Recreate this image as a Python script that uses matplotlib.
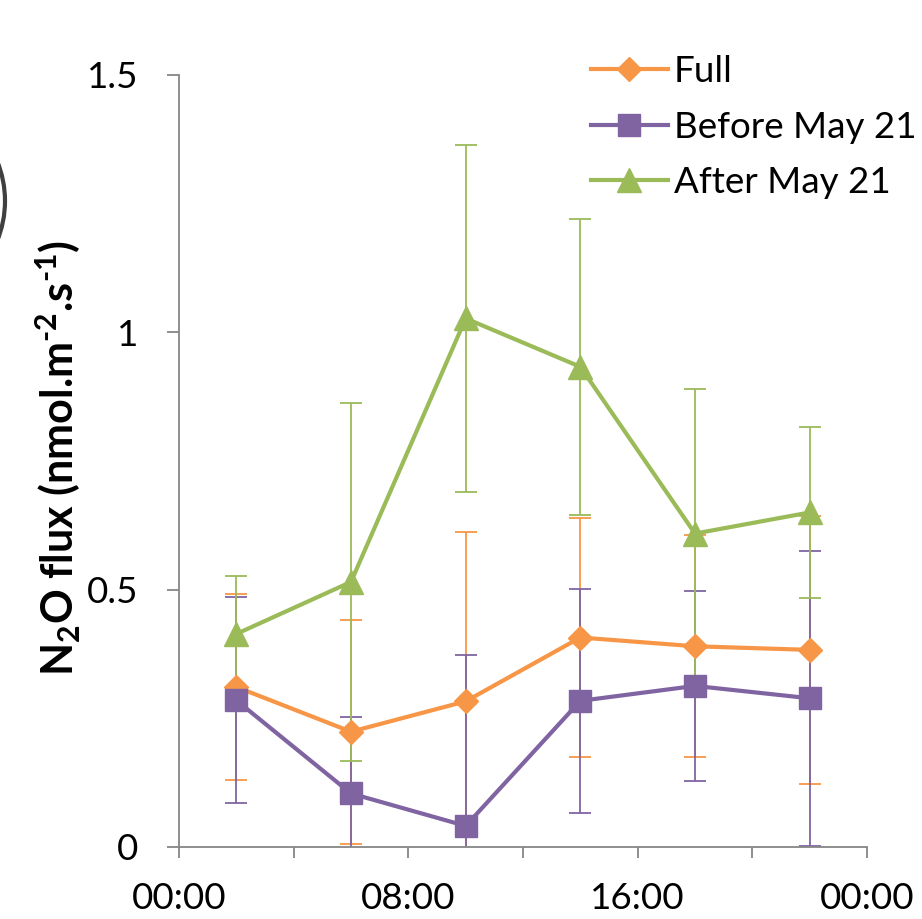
import matplotlib
matplotlib.use("Agg")
import matplotlib.pyplot as plt
from matplotlib.patches import Circle

plt.rcParams['font.family'] = ['Lato', 'DejaVu Sans']
plt.rcParams['mathtext.fontset'] = 'custom'
plt.rcParams['mathtext.rm'] = 'Lato:bold'
plt.rcParams['mathtext.it'] = 'Lato:bold'
plt.rcParams['mathtext.bf'] = 'Lato:bold'

# hours of day (sampling midpoints) and series values
hours = [2, 6, 10, 14, 18, 22]
full = [0.311, 0.224, 0.283, 0.407, 0.390, 0.383]
full_err = [0.18, 0.218, 0.33, 0.232, 0.216, 0.26]
before = [0.285, 0.104, 0.041, 0.284, 0.313, 0.289]
before_err = [0.2, 0.148, 0.332, 0.218, 0.185, 0.287]
after = [0.414, 0.515, 1.027, 0.933, 0.609, 0.650]
after_err = [0.113, 0.347, 0.337, 0.288, 0.28, 0.166]

names = ["Full", "Before May 21", "After May 21"]
colors = ["#F79646", "#8064A2", "#9BBB59"]
markers = ["D", "s", "^"]
msizes = [12, 16, 17]

x_ticks = [0, 4, 8, 12, 16, 20, 24]
x_labels = ["00:00", "", "08:00", "", "16:00", "", "00:00"]
y_ticks = [0, 0.5, 1, 1.5]
y_labels = ["0", "0.5", "1", "1.5"]

W, H = 922, 919
fig = plt.figure(figsize=(W / 100, H / 100), dpi=100)
ax = fig.add_axes([179 / W, (H - 847) / H, (867 - 179) / W, (847 - 75) / H])

series = [(full, full_err), (before, before_err), (after, after_err)]
handles = []
# error bars sit behind every line and marker
for i, (vals, errs) in enumerate(series):
    ax.errorbar(hours, vals, yerr=errs, fmt='none', ecolor=colors[i],
                elinewidth=1.3, capsize=8, capthick=1.3, zorder=1)
for i, (vals, errs) in enumerate(series):
    ln, = ax.plot(hours, vals, color=colors[i], lw=3, marker=markers[i],
                  ms=msizes[i], mec=colors[i], mfc=colors[i], zorder=3 + i)
    handles.append(ln)

ax.set_xlim(0, 24)
ax.set_ylim(0, 1.5)
ax.set_xticks(x_ticks)
ax.set_xticklabels(x_labels)
ax.set_yticks(y_ticks)
ax.set_yticklabels(y_labels)

grey = "#868686"
for s in ["top", "right"]:
    ax.spines[s].set_visible(False)
for s in ["left", "bottom"]:
    ax.spines[s].set_color(grey)
    ax.spines[s].set_linewidth(1.3)
ax.tick_params(axis='both', colors=grey, labelcolor="#000000", labelsize=26.5,
               width=1.3)
ax.tick_params(axis='y', length=9, pad=20)
ax.tick_params(axis='x', length=8, pad=17)

fig.text(58 / W, 1 - 458 / H,
         r"N$_\mathrm{2}$O flux (nmol.m$^{\text{-2}}$.s$^{\text{-1}}$)",
         rotation=90, ha='center', va='center', fontsize=31,
         fontweight='bold')

fig.legend(handles, names, loc='upper left',
           bbox_to_anchor=(576 / W, 1 - 40 / H), frameon=False,
           fontsize=26.5, handlelength=2.1, handletextpad=0.15,
           labelspacing=0.62, numpoints=1, borderaxespad=0)

# partial panel-letter circle cut off at the left edge
fig.patches.append(Circle((-100, H - 201), 105, transform=None, fill=False,
                          lw=3, ec="#404040"))

fig.savefig("out.png", dpi=100)
